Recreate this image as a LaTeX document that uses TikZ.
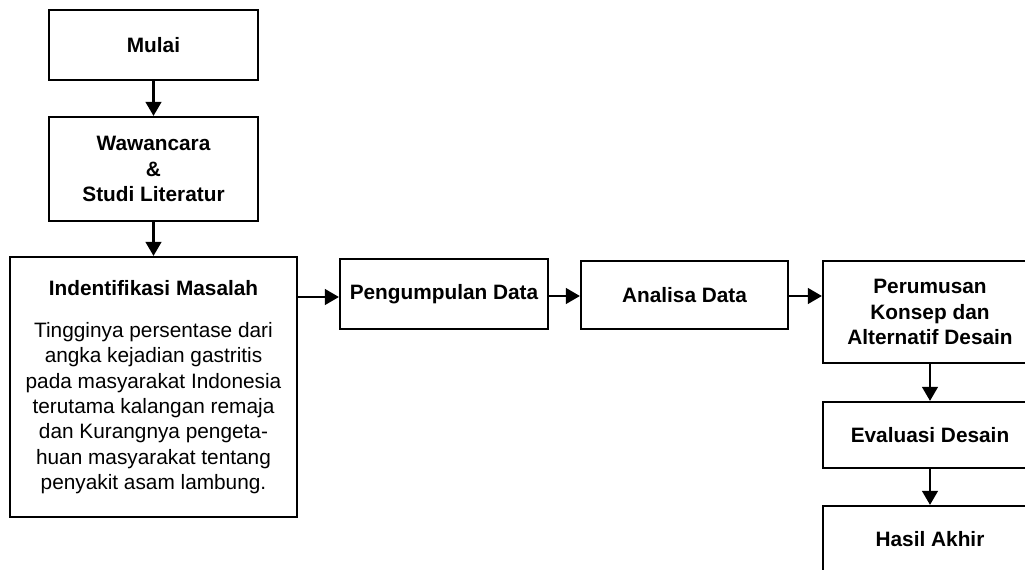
\documentclass[tikz,border=0pt]{standalone}
\usepackage{fontspec}
\setmainfont{Liberation Sans}
\usepackage{tikz}
\usetikzlibrary{arrows.meta}
\usetikzlibrary{calc}

\begin{document}
\begin{tikzpicture}[
        x=0.025cm, y=-0.025cm, % Satuan: satu piksel gambar acuan
        font=\fontsize{14.2}{17.8}\selectfont,
        kotak/.style={draw, line width=1.5pt, align=center, inner sep=0pt, font=\fontsize{14.8}{18}\selectfont\bfseries}, % Gaya kotak proses
        panah/.style={-{Triangle[length=10pt, width=11pt]}, line width=2pt} % Gaya panah
    ]
        % --- Batas gambar ---
        \clip (0,0) rectangle (1025,570);

        % --- Kolom kiri ---
        \node[kotak, minimum width=209*0.025cm, minimum height=70*0.025cm] (mulai) at (153.5,45) {Mulai};
        \node[kotak, minimum width=209*0.025cm, minimum height=104*0.025cm] (wawancara) at (153.5,169) {Wawancara\\\&\\Studi Literatur};
        \node[kotak, minimum width=287*0.025cm, minimum height=260*0.025cm] (identifikasi) at (153.5,387)
            {Indentifikasi Masalah\\[12pt]
             \mdseries Tingginya persentase dari\\
             \mdseries angka kejadian gastritis\\
             \mdseries pada masyarakat Indonesia\\
             \mdseries terutama kalangan remaja\\
             \mdseries dan Kurangnya pengeta-\\
             \mdseries huan masyarakat tentang\\
             \mdseries penyakit asam lambung.};

        % --- Baris tengah ---
        \node[kotak, minimum width=208*0.025cm, minimum height=70*0.025cm] (pengumpulan) at (444,294) {Pengumpulan Data};
        \node[kotak, minimum width=207*0.025cm, minimum height=68*0.025cm] (analisa) at (684.5,295) {Analisa Data};

        % --- Kolom kanan (terpotong di tepi) ---
        \node[kotak, minimum width=214*0.025cm, minimum height=102*0.025cm] (perumusan) at (930,312) {Perumusan\\Konsep dan\\Alternatif Desain};
        \node[kotak, minimum width=214*0.025cm, minimum height=66*0.025cm] (evaluasi) at (930,435) {Evaluasi Desain};
        \node[kotak, minimum width=214*0.025cm, minimum height=66*0.025cm] (hasil) at (930,539) {Hasil Akhir};

        % --- Panah alur ---
        \draw[panah] (mulai) -- (wawancara);
        \draw[panah] (wawancara) -- (identifikasi);
        \draw[panah] (identifikasi.east |- 0,297) -- (pengumpulan.west |- 0,297);
        \draw[panah] (pengumpulan.east |- 0,296) -- (analisa.west |- 0,296);
        \draw[panah] (analisa.east |- 0,296) -- (perumusan.west |- 0,296);
        \draw[panah] (perumusan) -- (evaluasi);
        \draw[panah] (evaluasi) -- (hasil);

    \end{tikzpicture}
\end{document}
